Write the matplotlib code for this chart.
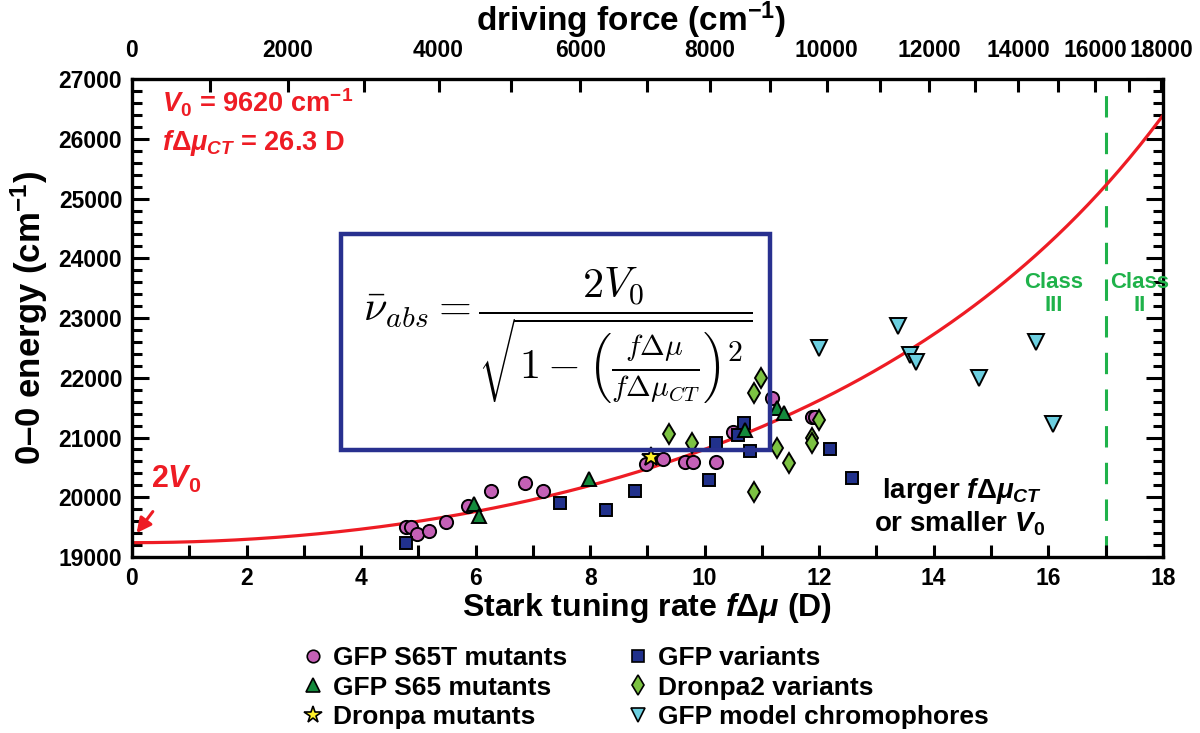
import numpy as np
import matplotlib
matplotlib.use("Agg")
import matplotlib.pyplot as plt
from matplotlib.lines import Line2D
from matplotlib.patches import Rectangle

plt.rcParams["font.family"] = ["Liberation Sans", "DejaVu Sans"]
plt.rcParams["font.weight"] = "bold"
plt.rcParams["mathtext.fontset"] = "custom"
plt.rcParams["mathtext.rm"] = "Liberation Sans:bold"
plt.rcParams["mathtext.it"] = "Liberation Sans:italic"
plt.rcParams["mathtext.bf"] = "Liberation Sans:bold"
plt.rcParams["mathtext.bfit"] = "Liberation Sans:italic:bold"

# fit parameters
V0 = 9620.0
MU_CT = 26.3

# GFP S65T mutants (circles)
s65t_x = [4.78, 4.88, 4.98, 5.18, 5.48, 5.87, 6.27, 6.87, 7.17, 8.98, 9.28, 9.66,
          9.79, 10.19, 10.49, 11.18, 11.87, 11.93]
s65t_y = [19497, 19497, 19385, 19440, 19591, 19859, 20105, 20244, 20105, 20556,
          20645, 20595, 20595, 20585, 21097, 21656, 21348, 21338]
# GFP S65 mutants (triangles)
s65_x = [5.98, 6.06, 7.98, 10.70, 11.26, 11.39]
s65_y = [19887, 19686, 20300, 21126, 21489, 21405]
# Dronpa mutants (star)
dronpa_x = [9.07]
dronpa_y = [20669]
# GFP variants (squares)
gfpv_x = [4.78, 7.47, 8.28, 8.78, 10.08, 10.19, 10.59, 10.69, 10.79, 12.19, 12.58]
gfpv_y = [19229, 19909, 19787, 20105, 20289, 20913, 21042, 21238, 20774, 20803, 20317]
# Dronpa2 variants (diamonds)
dr2_x = [9.37, 9.78, 10.87, 10.98, 11.27, 11.48, 10.87, 11.87, 11.88, 11.99]
dr2_y = [21059, 20913, 21740, 21991, 20819, 20568, 20093, 20987, 20913, 21293]
# GFP model chromophores (down triangles)
chrom_x = [12.00, 13.38, 13.58, 13.69, 14.79, 15.79, 16.09]
chrom_y = [22498, 22866, 22381, 22269, 21991, 22603, 21226]

RED = "#ee1c24"
GREEN_LINE = "#1fb24a"


def dg_from_mu(x):
    r = np.clip(np.asarray(x, dtype=float) / MU_CT, -0.999, 0.999)
    return 2 * V0 * r / np.sqrt(1 - r ** 2)


def mu_from_dg(g):
    g = np.asarray(g, dtype=float) / (2 * V0)
    return MU_CT * g / np.sqrt(g ** 2 + 1)


fig = plt.figure(figsize=(12, 7.33), dpi=100)
ax = fig.add_axes([0.110, 0.2401, 0.859, 0.652])

xs = np.linspace(0, 18, 400)
ax.plot(xs, 2 * V0 / np.sqrt(1 - (xs / MU_CT) ** 2), color=RED, lw=2.3, zorder=2)
ax.axvline(17, color=GREEN_LINE, lw=2.2, dashes=(7, 5), zorder=1)

mk = dict(mec="black", mew=1.4, ls="none", zorder=3)
ax.plot(s65t_x, s65t_y, "o", ms=9.5, mfc="#c460b6", **mk)
ax.plot(gfpv_x, gfpv_y, "s", ms=8.5, mfc="#21318c", **mk)
ax.plot(dr2_x, dr2_y, "d", ms=10.5, mfc="#7cc242", **mk)
ax.plot(s65_x, s65_y, "^", ms=10.5, mfc="#148a3c", **mk)
ax.plot(chrom_x, chrom_y, "v", ms=11, mfc="#6ccfe0", **mk)
ax.plot(dronpa_x, dronpa_y, "*", ms=14, mfc="#fff12a", **mk)

ax.set_xlim(0, 18)
ax.set_ylim(19000, 27000)
ax.set_xticks(np.arange(0, 19, 2))
ax.set_xticks(np.arange(0, 19, 1), minor=True)
ax.set_yticks(np.arange(19000, 27001, 1000))
ax.set_yticks(np.arange(19000, 27001, 200), minor=True)
ax.tick_params(axis="x", which="both", direction="in", length=9, width=2.2,
               labelsize=16.5, pad=7, top=False)
ax.tick_params(axis="y", which="major", direction="in", length=12, width=2.2,
               labelsize=16.5, right=True, pad=7)
ax.tick_params(axis="y", which="minor", direction="in", length=7, width=2.2, right=True)
for sp in ax.spines.values():
    sp.set_linewidth(2.4)

ax.set_xlabel(r"Stark tuning rate $\mathbfit{f}\Delta\mu$ (D)", fontsize=23,
              fontweight="bold", labelpad=1)
ax.set_ylabel(r"0–0 energy (cm$^{\mathbf{-1}}$)", fontsize=25, fontweight="bold",
              labelpad=6)

top = ax.secondary_xaxis("top", functions=(dg_from_mu, mu_from_dg))
top.set_xticks(np.arange(0, 18001, 2000))
top.set_xticks(np.arange(0, 18001, 1000), minor=True)
top.tick_params(which="both", direction="in", length=9, width=2.2, labelsize=16.5, pad=12)
top.set_xlabel(r"driving force (cm$^{\mathbf{-1}}$)", fontsize=24, fontweight="bold",
               labelpad=6)
top.xaxis.label.set_x(0.484)

# annotations
ax.text(0.52, 26600, r"$\mathbfit{V}_{\mathbf{0}}$ = 9620 cm$^{\mathbf{-1}}$",
        color=RED, fontsize=19.5, fontweight="bold", va="center")
ax.text(0.52, 25930, r"$\mathbfit{f}\Delta\mu_{\mathbfit{CT}}$ = 26.3 D",
        color=RED, fontsize=19.5, fontweight="bold", va="center")

ax.add_patch(Rectangle((0.2027, 0.224), 0.416, 0.452, transform=ax.transAxes,
                       fill=False, ec="#28308f", lw=3.2, zorder=4))
ax.text(0.413, 0.462,
        r"$\bar{\nu}_{abs} = \dfrac{2V_0}{\sqrt{1-\left(\frac{f\Delta\mu}{f\Delta\mu_{CT}}\right)^2}}$",
        transform=ax.transAxes, fontsize=30.5, ha="center", va="center",
        math_fontfamily="cm", zorder=5)

ax.annotate(r"2$\mathbfit{V}_{\mathbf{0}}$", xy=(0.08, 19400), xytext=(0.78, 20290),
            color=RED, fontsize=22, fontweight="bold", ha="center", va="center",
            arrowprops=dict(arrowstyle="-|>", color=RED, lw=2.2, mutation_scale=22,
                            shrinkA=12, shrinkB=0))

ax.text(14.5, 20100, r"larger $\mathbfit{f}\Delta\mu_{\mathbfit{CT}}$",
        fontsize=20, fontweight="bold", ha="center", va="center")
ax.text(14.45, 19560, r"or smaller $\mathbfit{V}_{\mathbf{0}}$",
        fontsize=20, fontweight="bold", ha="center", va="center")

ax.text(16.1, 23400, "Class\nIII", color=GREEN_LINE, fontsize=16, fontweight="bold",
        ha="center", va="center", linespacing=1.1)
ax.text(17.6, 23400, "Class\nII", color=GREEN_LINE, fontsize=16, fontweight="bold",
        ha="center", va="center", linespacing=1.1)

# legend
hk = dict(mec="black", mew=1.2, ls="none")
handles = [
    Line2D([], [], marker="o", ms=9, mfc="#c460b6", **hk),
    Line2D([], [], marker="^", ms=10, mfc="#148a3c", **hk),
    Line2D([], [], marker="*", ms=13, mfc="#fff12a", **hk),
    Line2D([], [], marker="s", ms=8.5, mfc="#21318c", **hk),
    Line2D([], [], marker="d", ms=10, mfc="#7cc242", **hk),
    Line2D([], [], marker="v", ms=10, mfc="#6ccfe0", **hk),
]
labels = ["GFP S65T mutants", "GFP S65 mutants", "Dronpa mutants",
          "GFP variants", "Dronpa2 variants", "GFP model chromophores"]
fig.legend(handles, labels, ncol=2, loc="upper left", bbox_to_anchor=(0.241, 0.137),
           frameon=False, fontsize=19, handlelength=0.8, handletextpad=0.35,
           columnspacing=2.3, labelspacing=0.22, borderpad=0)

fig.savefig("out.png", dpi=100)
